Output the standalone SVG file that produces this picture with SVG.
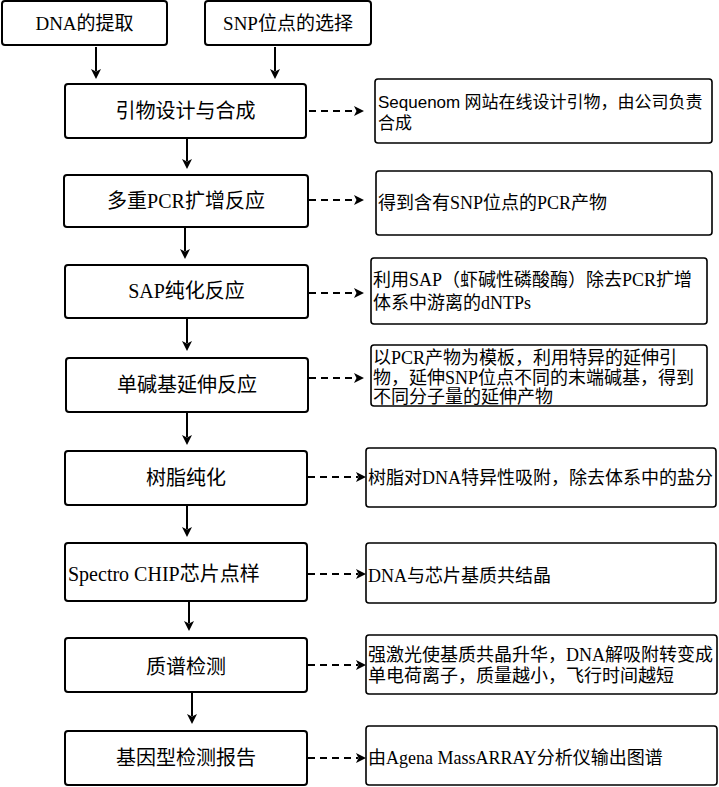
<svg xmlns="http://www.w3.org/2000/svg" width="719" height="787" viewBox="0 0 719 787">
<style>
.box{fill:#fff;stroke:#000;stroke-width:2}
.note{fill:#fff;stroke:#000;stroke-width:1.6}
.t{font-family:"Liberation Serif","Noto Sans CJK SC",serif;fill:#000}
.m{font-size:20px;text-anchor:middle}
.top{font-size:19px;text-anchor:middle}
.n{font-size:18px}
.solid{stroke:#000;stroke-width:2;fill:none}
.dash{stroke:#000;stroke-width:2;fill:none;stroke-dasharray:7 5}
</style>
<defs>
<marker id="ah" viewBox="0 0 10 10" refX="2" refY="5" markerWidth="10" markerHeight="10" markerUnits="userSpaceOnUse" orient="auto">
<path d="M0,0 L10,5 L0,10 L2.5,5 z" fill="#000"/>
</marker>
</defs>

<g id="n-dna"><rect class="box" x="2" y="1" width="165" height="44" rx="3"/><text class="t top" x="84.5" y="30">DNA的提取</text></g>
<g id="n-snp"><rect class="box" x="205" y="1" width="166" height="44" rx="3"/><text class="t top" x="288" y="30">SNP位点的选择</text></g>

<g id="n1"><rect class="box" x="65" y="84" width="241" height="54" rx="3"/><text class="t m" x="185.5" y="118">引物设计与合成</text></g>
<g id="n2"><rect class="box" x="64" y="175" width="244" height="52" rx="3"/><text class="t m" x="186" y="208">多重PCR扩增反应</text></g>
<g id="n3"><rect class="box" x="65" y="265" width="243" height="53" rx="3"/><text class="t m" x="186.5" y="298">SAP纯化反应</text></g>
<g id="n4"><rect class="box" x="66" y="358" width="242" height="54" rx="3"/><text class="t m" x="187" y="392">单碱基延伸反应</text></g>
<g id="n5"><rect class="box" x="65" y="451" width="242" height="54" rx="3"/><text class="t m" x="186" y="485">树脂纯化</text></g>
<g id="n6"><rect class="box" x="65" y="543" width="242" height="58" rx="3"/><text class="t" style="font-size:20px" x="68" y="581">Spectro CHIP芯片点样</text></g>
<g id="n7"><rect class="box" x="65" y="638" width="242" height="54" rx="3"/><text class="t m" x="186" y="674">质谱检测</text></g>
<g id="n8"><rect class="box" x="65" y="731" width="242" height="54" rx="3"/><text class="t m" x="186" y="765">基因型检测报告</text></g>

<g id="r1"><rect class="note" x="375" y="79" width="337" height="64" rx="3"/>
<text class="t" style="font-size:17px" x="378" y="108"><tspan font-family="Liberation Sans">Sequenom</tspan> 网站在线设计引物，由公司负责</text>
<text class="t" style="font-size:17px" x="378" y="129">合成</text></g>
<g id="r2"><rect class="note" x="376" y="171" width="336" height="64" rx="3"/><text class="t n" x="378" y="209">得到含有SNP位点的PCR产物</text></g>
<g id="r3"><rect class="note" x="371" y="258" width="336" height="66" rx="3"/>
<text class="t n" x="373" y="286">利用SAP（虾碱性磷酸酶）除去PCR扩增</text>
<text class="t n" x="373" y="309">体系中游离的dNTPs</text></g>
<g id="r4"><rect class="note" x="371" y="345" width="336" height="61" rx="3"/>
<text class="t n" x="373" y="364">以PCR产物为模板，利用特异的延伸引</text>
<text class="t n" x="373" y="384">物，延伸SNP位点不同的末端碱基，得到</text>
<text class="t n" x="373" y="403">不同分子量的延伸产物</text></g>
<g id="r5"><rect class="note" x="366" y="448" width="350" height="59" rx="3"/><text class="t n" x="368" y="484">树脂对DNA特异性吸附，除去体系中的盐分</text></g>
<g id="r6"><rect class="note" x="366" y="543" width="350" height="60" rx="3"/><text class="t n" x="368" y="582">DNA与芯片基质共结晶</text></g>
<g id="r7"><rect class="note" x="366" y="635" width="351" height="59" rx="3"/>
<text class="t n" x="368" y="661">强激光使基质共晶升华，DNA解吸附转变成</text>
<text class="t n" x="368" y="682">单电荷离子，质量越小，飞行时间越短</text></g>
<g id="r8"><rect class="note" x="366" y="726" width="351" height="59" rx="3"/><text class="t n" x="368" y="764">由Agena MassARRAY分析仪输出图谱</text></g>

<g id="connectors">
<path class="solid" marker-end="url(#ah)" d="M96,47 V71"/>
<path class="solid" marker-end="url(#ah)" d="M275,47 V71"/>
<path class="solid" marker-end="url(#ah)" d="M187,139 V161"/>
<path class="solid" marker-end="url(#ah)" d="M185,228 V251"/>
<path class="solid" marker-end="url(#ah)" d="M187,319 V343"/>
<path class="solid" marker-end="url(#ah)" d="M187,413 V437"/>
<path class="solid" marker-end="url(#ah)" d="M187,506 V529"/>
<path class="solid" marker-end="url(#ah)" d="M189,602 V623"/>
<path class="solid" marker-end="url(#ah)" d="M192,693 V716"/>
<path class="dash" marker-end="url(#ah)" d="M309,111 H356"/>
<path class="dash" marker-end="url(#ah)" d="M309,200 H356"/>
<path class="dash" marker-end="url(#ah)" d="M309,293 H356"/>
<path class="dash" marker-end="url(#ah)" d="M309,378 H356"/>
<path class="dash" marker-end="url(#ah)" d="M308,477 H358"/>
<path class="dash" marker-end="url(#ah)" d="M308,574 H358"/>
<path class="dash" marker-end="url(#ah)" d="M308,665 H358"/>
<path class="dash" marker-end="url(#ah)" d="M308,758 H358"/>
</g>
</svg>
